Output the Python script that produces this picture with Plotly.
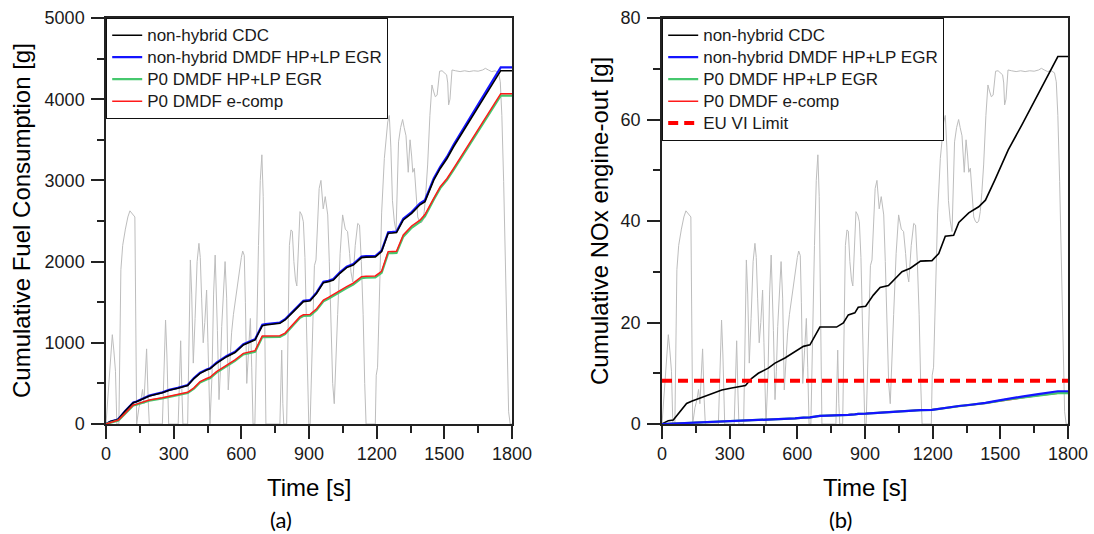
import plotly.graph_objects as go

# ---------------- data ----------------
# vehicle speed trace (grey, unlabelled secondary scale 0-100)
t_speed = [0, 8, 18, 28, 35, 42, 48, 57, 66, 74, 86, 97, 106, 118, 128, 136, 146, 155, 162, 168,
           174, 180, 187, 192, 250, 257, 264, 270, 278, 320, 326, 331, 336, 341, 362, 368, 374, 380,
           387, 395, 404, 412, 418, 424, 431, 438, 446, 452, 461, 470, 477, 484, 489, 494, 501, 507,
           513, 520, 528, 535, 542, 550, 557, 565, 572, 580, 587, 594, 600, 606, 613, 618, 624, 632,
           640, 646, 652, 660, 668, 676, 684, 691, 697, 703, 709, 771, 775, 779, 784, 788, 801, 807,
           813, 820, 826, 833, 840, 846, 853, 860, 868, 875, 882, 890, 899, 905, 914, 924, 931, 938,
           945, 953, 963, 972, 983, 990, 997, 1005, 1012, 1020, 1027, 1038, 1049, 1061, 1071, 1080,
           1086, 1094, 1105, 1116, 1124, 1132, 1140, 1147, 1153, 1194, 1198, 1204, 1212, 1222, 1234,
           1249, 1256, 1263, 1270, 1278, 1286, 1297, 1306, 1315, 1322, 1330, 1340, 1348, 1355, 1360,
           1367, 1374, 1382, 1389, 1396, 1404, 1411, 1418, 1426, 1436, 1445, 1452, 1460, 1468, 1479,
           1490, 1500, 1510, 1515, 1519, 1525, 1534, 1550, 1570, 1590, 1610, 1630, 1650, 1670, 1682,
           1695, 1710, 1725, 1740, 1748, 1755, 1763, 1775, 1785, 1792, 1800]
speed = [0, 6, 15, 22, 18, 13, 0, 0, 38, 44, 48, 51, 52.5, 51.5, 51, 0, 4, 6, 8.5, 5,
         12, 18.5, 6, 0, 0, 14, 25.6, 17, 0, 0, 14, 20.5, 9, 0, 0, 24, 40.4, 32,
         15, 26, 40, 44.5, 41, 31, 20, 25, 33, 20, 0, 12, 32, 41.6, 34, 23, 6, 13,
         24, 31, 40, 31, 8.4, 16, 22.6, 27, 30, 33, 36, 39, 41, 42.6, 41.5, 30, 10, 18,
         26, 14, 0, 0, 24, 44, 60, 66.3, 56, 26, 0, 0, 11, 18.2, 5, 0, 0, 22,
         44, 47.8, 47.5, 40, 35.5, 34, 43, 52.3, 51.5, 49.8, 41, 20, 0, 0, 20, 39, 40.4, 50,
         58, 60, 53, 56, 51.5, 40, 27, 10, 5, 15, 27, 42, 51.5, 48, 47.4, 42,
         37.5, 35, 44, 49.4, 49, 40, 27, 10, 0, 0, 12, 14, 30, 52, 65.4,
         74.4, 76, 68, 55, 50, 47.4, 69.5, 73, 75, 73, 71, 62, 70, 66, 62,
         63, 58, 51, 50, 49.5, 50, 52.3, 57, 63.8, 76, 83.5, 82, 80.6, 81, 86.9,
         87, 86.5, 86, 84, 78.6, 80, 87.2, 87, 86.8, 87, 86.8, 87, 86.9, 87.2, 87.6,
         87.2, 86.8, 87, 86.5, 84.3, 76, 59.7, 27, 3, 0, 0]

# cumulative fuel consumption [g]
t_fuel = [0, 20, 45, 55, 84, 121, 135, 166, 192, 250, 280, 318, 341, 362, 390, 417, 446, 461, 490,
          535, 572, 609, 652, 661, 693, 708, 771, 794, 831, 860, 875, 899, 905, 934, 964, 986, 1008,
          1037, 1067, 1096, 1133, 1153, 1194, 1222, 1251, 1270, 1288, 1318, 1355, 1392, 1414, 1453,
          1482, 1512, 1541, 1750, 1800]
fuel_cdc = [0, 30, 50, 60, 155, 262, 275, 316, 345, 385, 415, 440, 455, 475, 560, 624, 665, 680, 747,
            829, 880, 973, 1025, 1035, 1212, 1220, 1240, 1281, 1384, 1466, 1507, 1515, 1519, 1610, 1741, 1753, 1774,
            1856, 1926, 1958, 2049, 2055, 2057, 2123, 2349, 2352, 2357, 2513, 2595, 2700, 2738, 3004,
            3147, 3270, 3414, 4351, 4351]
fuel_dmdf = [0, 30, 50, 61, 157, 265, 278, 320, 349, 390, 420, 445, 461, 481, 567, 631, 672, 687, 755,
             837, 889, 982, 1034, 1044, 1222, 1230, 1250, 1291, 1394, 1476, 1517, 1525, 1529, 1621, 1752, 1764, 1785,
             1868, 1938, 1970, 2061, 2067, 2069, 2135, 2362, 2365, 2370, 2527, 2610, 2716, 2756, 3024,
             3168, 3292, 3437, 4392, 4392]
fuel_p0_egr = [0, 20, 36, 44, 122, 228, 239, 268, 288, 316, 332, 352, 366, 381, 436, 510, 549, 564, 632,
               715, 777, 857, 882, 890, 1070, 1072, 1074, 1106, 1215, 1307, 1330, 1333, 1335, 1404, 1511, 1543, 1580,
               1633, 1673, 1717, 1797, 1802, 1805, 1861, 2103, 2105, 2108, 2307, 2417, 2489, 2557, 2763,
               2905, 3006, 3128, 4043, 4043]
fuel_p0_ecomp = [0, 22, 40, 48, 127, 234, 245, 275, 295, 324, 340, 360, 375, 390, 445, 521, 560, 575, 644,
                 727, 790, 870, 895, 903, 1084, 1086, 1088, 1120, 1230, 1322, 1345, 1348, 1350, 1420, 1527, 1560, 1597,
                 1650, 1691, 1735, 1815, 1820, 1823, 1880, 2123, 2125, 2128, 2328, 2439, 2510, 2580, 2778,
                 2922, 3024, 3147, 4068, 4068]

# cumulative NOx engine-out [g]
t_nox = [0, 28, 50, 80, 109, 131, 176, 220, 265, 309, 353, 370, 398, 427, 471, 501, 545, 590, 627, 656,
         700, 774, 804, 826, 855, 870, 903, 937, 967, 1004, 1034, 1064, 1101, 1146, 1197, 1227, 1256,
         1293, 1316, 1360, 1404, 1434, 1476, 1513, 1535, 1595, 1668, 1727, 1755, 1800]
nox_cdc = [0, 0.66, 0.8, 2.4, 4.05, 4.5, 5.24, 6.0, 6.7, 7.1, 7.37, 7.6, 9.0, 10.0, 11.0, 12.0, 13.0, 14.3, 15.3, 15.6,
           19.1, 19.1, 19.9, 21.5, 21.9, 23.0, 23.2, 25.4, 26.9, 27.3, 28.7, 30.0, 30.7, 32.1, 32.2, 33.6, 37.0,
           37.2, 39.7, 41.6, 42.8, 44.1, 48.1, 51.7, 54.0, 58.9, 65.2, 70.1, 72.4, 72.4]
nox_dmdf = [0, 0.05, 0.1, 0.15, 0.2, 0.25, 0.3, 0.35, 0.45, 0.5, 0.55, 0.6, 0.65, 0.75, 0.85, 0.9, 1.0, 1.1, 1.25, 1.3,
            1.6, 1.65, 1.7, 1.8, 1.9, 2.0, 2.05, 2.15, 2.3, 2.35, 2.45, 2.55, 2.65, 2.75, 2.8, 3.0, 3.3,
            3.4, 3.55, 3.75, 3.95, 4.15, 4.5, 4.8, 5.0, 5.4, 5.9, 6.3, 6.45, 6.45]
nox_p0_egr = [0, 0.05, 0.1, 0.15, 0.2, 0.25, 0.3, 0.35, 0.45, 0.5, 0.55, 0.6, 0.65, 0.75, 0.85, 0.9, 1.0, 1.1, 1.25, 1.3,
              1.6, 1.65, 1.7, 1.8, 1.9, 2.0, 2.05, 2.15, 2.3, 2.35, 2.45, 2.55, 2.65, 2.75, 2.8, 3.0, 3.28,
              3.38, 3.52, 3.7, 3.9, 4.1, 4.4, 4.7, 4.85, 5.2, 5.65, 6.0, 6.1, 6.1]
nox_p0_ecomp = [0, 0.05, 0.1, 0.15, 0.2, 0.25, 0.3, 0.35, 0.45, 0.5, 0.55, 0.6, 0.65, 0.75, 0.85, 0.9, 1.0, 1.1, 1.25, 1.3,
                1.6, 1.65, 1.7, 1.8, 1.9, 2.0, 2.05, 2.15, 2.3, 2.35, 2.45, 2.55, 2.65, 2.75, 2.8, 3.0, 3.27,
                3.37, 3.5, 3.68, 3.88, 4.07, 4.37, 4.65, 4.8, 5.15, 5.6, 5.95, 6.05, 6.05]

eu6_limit = 8.5
t_limit = [0, 1800]

series_names = ["non-hybrid CDC", "non-hybrid DMDF HP+LP EGR", "P0 DMDF HP+LP EGR", "P0 DMDF e-comp"]
limit_name = "EU VI Limit"
x_ticks = [0, 300, 600, 900, 1200, 1500, 1800]

# ---------------- styling ----------------
W, H = 1094, 534
FONT = "Liberation Sans, Arial, sans-serif"
TXT = "#1a1a1a"
colors = ["#000000", "#1414ff", "#46c86e", "#ff1a1a"]
widths = [1.6, 2.2, 2.2, 1.5]
GREY = "#bdbdbd"

L = (106, 512)
R = (662, 1068)
TOP, BOT = 18, 424


def px(x):
    return x / W


def py(y):
    return 1 - y / H


def leg(name):
    # legend label drawn at 17px while rows keep a tighter pitch
    return '<span style="font-size:17px">' + name + '</span>'


fig = go.Figure()

# grey speed traces on the (hidden) base axes so they sit behind
fig.add_trace(go.Scatter(x=t_speed, y=speed, mode="lines", line=dict(color=GREY, width=1),
                         xaxis="x", yaxis="y", showlegend=False, hoverinfo="skip"))
fig.add_trace(go.Scatter(x=t_speed, y=speed, mode="lines", line=dict(color=GREY, width=1),
                         xaxis="x2", yaxis="y2", showlegend=False, hoverinfo="skip"))

fuel_sets = [fuel_cdc, fuel_dmdf, fuel_p0_egr, fuel_p0_ecomp]
nox_sets = [nox_cdc, nox_dmdf, nox_p0_egr, nox_p0_ecomp]
for i in [1, 0, 2, 3]:
    fig.add_trace(go.Scatter(x=t_fuel, y=fuel_sets[i], mode="lines", name=leg(series_names[i]),
                             line=dict(color=colors[i], width=widths[i]),
                             xaxis="x", yaxis="y3", legend="legend", legendrank=i + 1))
for i in [0, 3, 2, 1]:
    fig.add_trace(go.Scatter(x=t_nox, y=nox_sets[i], mode="lines", name=leg(series_names[i]),
                             line=dict(color=colors[i], width=widths[i]),
                             xaxis="x2", yaxis="y4", legend="legend2", legendrank=i + 1))
fig.add_trace(go.Scatter(x=t_limit, y=[eu6_limit, eu6_limit], mode="lines", name=leg(limit_name),
                         line=dict(color="#ff0000", width=4, dash="10px,6px"),
                         xaxis="x2", yaxis="y4", legend="legend2", legendrank=5))

axis_common = dict(
    automargin=False,
    showline=True, linecolor="#222222", linewidth=1.5, mirror=True,
    ticks="outside", ticklen=13, tickwidth=1.5, tickcolor="#222222",
    showgrid=False, zeroline=False,
    tickfont=dict(family=FONT, size=18, color=TXT),
)
minor_common = dict(ticklen=7, ticks="outside", tickcolor="#222222", tickwidth=1.5, showgrid=False)
legend_common = dict(xanchor="left", yanchor="top", bgcolor="white", bordercolor="#111111",
                     borderwidth=1.2, font=dict(family=FONT, size=14.6, color=TXT), tracegroupgap=0)

fig.update_layout(
    template="plotly_white",
    width=W, height=H,
    margin=dict(l=0, r=0, t=0, b=0, pad=0, autoexpand=False),
    paper_bgcolor="white", plot_bgcolor="white",
    font=dict(family=FONT, color=TXT),
    xaxis=dict(domain=[px(L[0]), px(L[1])], range=[0, 1800], anchor="y3",
               tickvals=x_ticks, minor=dict(dtick=150, **minor_common), **axis_common),
    xaxis2=dict(domain=[px(R[0]), px(R[1])], range=[0, 1800], anchor="y4",
                tickvals=x_ticks, minor=dict(dtick=150, **minor_common), **axis_common),
    yaxis=dict(domain=[py(BOT), py(TOP)], range=[0, 100], anchor="x", visible=False, automargin=False),
    yaxis2=dict(domain=[py(BOT), py(TOP)], range=[0, 100], anchor="x2", visible=False, automargin=False),
    yaxis3=dict(overlaying="y", anchor="x", range=[0, 5000], dtick=1000, ticklabelstandoff=3,
                minor=dict(dtick=500, **minor_common), **axis_common),
    yaxis4=dict(overlaying="y2", anchor="x2", range=[0, 80], dtick=20, ticklabelstandoff=3,
                minor=dict(dtick=10, **minor_common), **axis_common),
    legend=dict(x=px(L[0]), y=py(TOP), **legend_common),
    legend2=dict(x=px(R[0]), y=py(TOP), **legend_common),
    showlegend=True,
)

ann_font = dict(family=FONT, size=24, color="#000000")
annotations = [
    dict(text="Cumulative Fuel Consumption [g]", x=px(21), y=py((TOP + BOT) / 2), textangle=-90, font=ann_font),
    dict(text="Cumulative NOx engine-out [g]", x=px(599), y=py((TOP + BOT) / 2), textangle=-90, font=ann_font),
    dict(text="Time [s]", x=px((L[0] + L[1]) / 2), y=py(487), font=ann_font),
    dict(text="Time [s]", x=px((R[0] + R[1]) / 2), y=py(487), font=ann_font),
    dict(text="(a)", x=px(281), y=py(519), font=dict(family="Lato, Open Sans, sans-serif", size=22, color="#000000")),
    dict(text="(b)", x=px(840), y=py(519), font=dict(family="Lato, Open Sans, sans-serif", size=22, color="#000000")),
]
for a in annotations:
    a.update(xref="paper", yref="paper", showarrow=False, xanchor="center", yanchor="middle")
fig.update_layout(annotations=annotations)

fig.write_html("out.html")
